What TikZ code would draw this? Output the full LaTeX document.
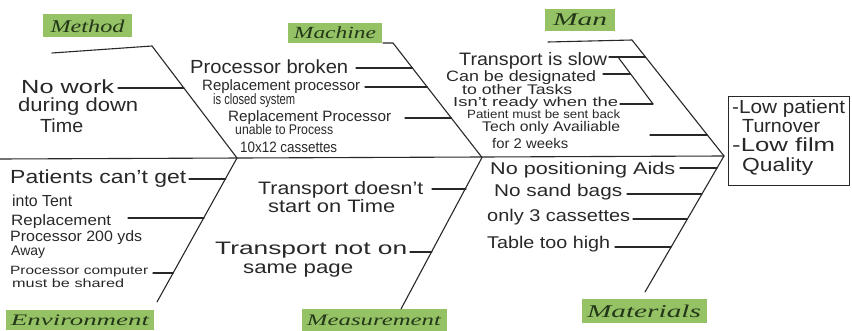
\documentclass[tikz,border=0pt]{standalone}
\usepackage{fontspec}
\setmainfont{Liberation Sans}
\newfontfamily\lblfont{Liberation Serif}
\usepackage{graphicx}
\definecolor{ink}{RGB}{40,40,40}
\definecolor{hl}{RGB}{150,194,102}
\definecolor{lblink}{RGB}{35,55,25}
% #1 target width (pt), #2 font size (pt), #3 text: fixed height, width fitted
\newcommand\tx[3]{{\fontsize{#2}{#2}\selectfont\resizebox{#1pt}{\height}{#3}}}
\tikzset{
  bone/.style={draw=ink, line width=1.1pt, line cap=round, line join=round},
  txt/.style={inner sep=0pt, anchor=base west, text=ink},
  lbl/.style={fill=hl, inner sep=0pt, text=lblink, font=\lblfont\itshape},
  headbox/.style={draw=ink, line width=1.1pt, inner sep=0pt}
}
\begin{document}
\begin{tikzpicture}[x=1pt,y=-1pt]
\useasboundingbox (0,0) rectangle (852,331);
% ---------- labels
\node[lbl, minimum width=89pt, minimum height=23pt] (lmethod) at (87.5,26) {\tx{74}{18}{Method}};
\node[lbl, minimum width=94pt, minimum height=20pt] (lmachine) at (335,33) {\tx{82}{17}{Machine}};
\node[lbl, minimum width=70pt, minimum height=22pt] (lman) at (580,20) {\tx{54}{18}{Man}};
\node[lbl, minimum width=148pt, minimum height=20pt] (lenv) at (80,320) {\tx{138}{16}{Environment}};
\node[lbl, minimum width=145pt, minimum height=21pt] (lmeas) at (374,320) {\tx{134}{16}{Measurement}};
\node[lbl, minimum width=125pt, minimum height=24pt] (lmat) at (644,311) {\tx{114}{18}{Materials}};
% ---------- spine and bones
\coordinate (L) at (0,159);
\coordinate (H) at (724,156);
\draw[bone] (L) -- (H);
\coordinate (meA) at (52,53); \coordinate (meB) at (152,46); \coordinate (meC) at (237,158);
\draw[bone] (meA) -- (meB) -- (meC);
\coordinate (maA) at (383,43); \coordinate (maB) at (393,43); \coordinate (maC) at (482,157.5);
\draw[bone] (maA) -- (maB) -- (maC);
\coordinate (mnA) at (548,42); \coordinate (mnB) at (632,40);
\draw[bone] (mnA) -- (mnB) -- (H);
\coordinate (enB) at (157,302);
\draw[bone] (meC) -- (enB);
\coordinate (msB) at (401,309);
\draw[bone] (maC) -- (msB);
\coordinate (mtB) at (645,292);
\draw[bone] (H) -- (mtB);
% ---------- head
\node[headbox, minimum width=121pt, minimum height=89pt, anchor=north west] (head) at (728,96) {};
\node[txt] (h1) at (732,114) {\tx{113}{19}{-Low patient}};
\node[txt] (h2) at (742,133) {\tx{78}{19}{Turnover}};
\node[txt] (h3) at (732,152) {\tx{103}{19}{-Low film}};
\node[txt] (h4) at (742,172) {\tx{71}{19}{Quality}};
% ---------- Method
\node[txt] (me1) at (21,94) {\tx{93}{19}{No work}};
\node[txt] (me2) at (18,112) {\tx{120}{19}{during down}};
\node[txt] (me3) at (40,133) {\tx{43}{19}{Time}};
\coordinate (me1s) at (118,88); \coordinate (me1e) at (183.9,88);
\draw[bone] (me1s) -- (me1e);
% ---------- Machine
\node[txt] (ma1) at (190,74) {\tx{158}{19}{Processor broken}};
\node[txt] (ma2) at (202,91) {\tx{158}{15}{Replacement processor}};
\node[txt] (ma3) at (213,105) {\tx{82}{15}{is closed system}};
\node[txt] (ma4) at (228,122) {\tx{163}{15}{Replacement Processor}};
\node[txt] (ma5) at (235,135) {\tx{98}{14}{unable to Process}};
\node[txt] (ma6) at (240,153) {\tx{97}{15}{10x12 cassettes}};
\coordinate (ma1s) at (356,68); \coordinate (ma1e) at (412.4,68);
\coordinate (ma2s) at (365,87); \coordinate (ma2e) at (427.2,87);
\coordinate (ma4s) at (405,118); \coordinate (ma4e) at (451.3,118);
\draw[bone] (ma1s) -- (ma1e);
\draw[bone] (ma2s) -- (ma2e);
\draw[bone] (ma4s) -- (ma4e);
% ---------- Man
\node[txt] (mn1) at (459,66) {\tx{148}{18}{Transport is slow}};
\node[txt] (mn2) at (446,82) {\tx{150}{15}{Can be designated}};
\node[txt] (mn3) at (462,95) {\tx{110}{14}{to other Tasks}};
\node[txt] (mn4) at (453,107) {\tx{165}{13}{Isn't ready when the}};
\node[txt] (mn5) at (467,119) {\tx{153}{12}{Patient must be sent back}};
\node[txt] (mn6) at (482,132) {\tx{138}{14}{Tech only Availiable}};
\node[txt] (mn7) at (492,149) {\tx{76}{14}{for 2 weeks}};
\coordinate (mn1s) at (609,57); \coordinate (mn1e) at (645.5,57);
\coordinate (mnI1) at (618,57); \coordinate (mnI2) at (653,104);
\coordinate (mn2s) at (603,74); \coordinate (mn2e) at (630.4,74);
\coordinate (mn4s) at (620,104);
\coordinate (mn6s) at (650,135); \coordinate (mn6e) at (707.3,135);
\draw[bone] (mn1s) -- (mn1e);
\draw[bone] (mnI1) -- (mnI2);
\draw[bone] (mn2s) -- (mn2e);
\draw[bone] (mn4s) -- (mnI2);
\draw[bone] (mn6s) -- (mn6e);
% ---------- Environment
\node[txt] (en1) at (10,184) {\tx{176}{19}{Patients can't get}};
\node[txt] (en2) at (12,207) {\tx{60}{16}{into Tent}};
\node[txt] (en3) at (11,226) {\tx{100}{15}{Replacement}};
\node[txt] (en4) at (10,242) {\tx{132}{15}{Processor 200 yds}};
\node[txt] (en5) at (11,256) {\tx{34}{14}{Away}};
\node[txt] (en6) at (10,275) {\tx{138}{12}{Processor computer}};
\node[txt] (en7) at (12,288) {\tx{112}{12}{must be shared}};
\coordinate (en1s) at (189,179); \coordinate (en1e) at (225.8,179);
\coordinate (en3s) at (128,218); \coordinate (en3e) at (204,218);
\coordinate (en6s) at (153,273); \coordinate (en6e) at (173.3,273);
\draw[bone] (en1s) -- (en1e);
\draw[bone] (en3s) -- (en3e);
\draw[bone] (en6s) -- (en6e);
% ---------- Measurement
\node[txt] (ms1) at (258,195) {\tx{165}{18}{Transport doesn't}};
\node[txt] (ms2) at (268,213) {\tx{127}{18}{start on Time}};
\node[txt] (ms3) at (215,255) {\tx{192}{18}{Transport not on}};
\node[txt] (ms4) at (243,274) {\tx{110}{18}{same page}};
\coordinate (ms1s) at (432,189); \coordinate (ms1e) at (466,189);
\coordinate (ms3s) at (410,252); \coordinate (ms3e) at (431.9,252);
\draw[bone] (ms1s) -- (ms1e);
\draw[bone] (ms3s) -- (ms3e);
% ---------- Materials
\node[txt] (mt1) at (490,175) {\tx{185}{17}{No positioning Aids}};
\node[txt] (mt2) at (494,197) {\tx{128}{17}{No sand bags}};
\node[txt] (mt3) at (487,222) {\tx{143}{17}{only 3 cassettes}};
\node[txt] (mt4) at (487,249) {\tx{123}{17}{Table too high}};
\coordinate (mt1s) at (680,168); \coordinate (mt1e) at (717,168);
\coordinate (mt2s) at (627,194); \coordinate (mt2e) at (701.9,194);
\coordinate (mt3s) at (633,219); \coordinate (mt3e) at (687.4,219);
\coordinate (mt4s) at (615,247); \coordinate (mt4e) at (671.1,247);
\draw[bone] (mt1s) -- (mt1e);
\draw[bone] (mt2s) -- (mt2e);
\draw[bone] (mt3s) -- (mt3e);
\draw[bone] (mt4s) -- (mt4e);
\end{tikzpicture}
\end{document}
